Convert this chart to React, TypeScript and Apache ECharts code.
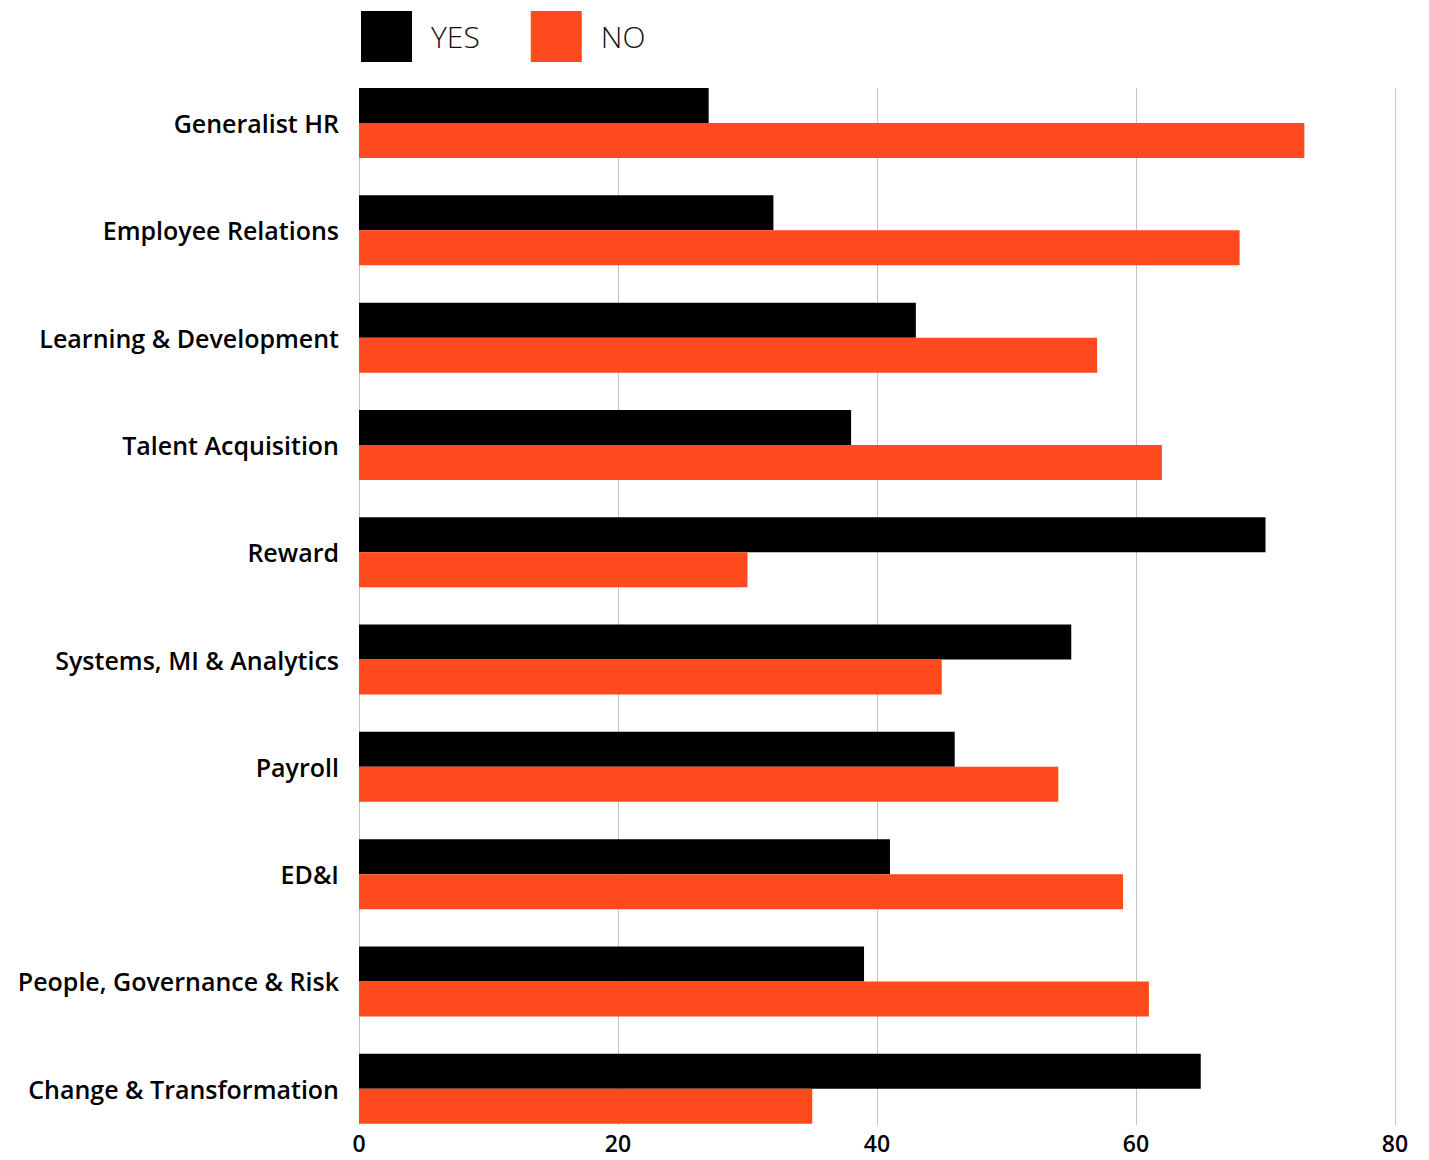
import React, { useEffect, useRef } from "react";
import * as echarts from "echarts";

const categories = [
  "Generalist HR",
  "Employee Relations",
  "Learning & Development",
  "Talent Acquisition",
  "Reward",
  "Systems, MI & Analytics",
  "Payroll",
  "ED&I",
  "People, Governance & Risk",
  "Change & Transformation",
];
const yesValues = [27, 32, 43, 38, 70, 55, 46, 41, 39, 65];
const noValues = [73, 68, 57, 62, 30, 45, 54, 59, 61, 35];
const seriesNames = ["YES", "NO"];
const xTicks = [0, 20, 40, 60, 80];

const BLACK = "#000000";
const ORANGE = "#FF4A1E";
const GRIDLINE = "#c4c4c4";
const FONT = "Open Sans";

export default function App() {
  const ref = useRef<HTMLDivElement>(null);
  useEffect(() => {
    if (!ref.current) return;
    const chart = echarts.init(ref.current, null, { renderer: "svg" });
    chart.setOption({
      animation: false,
      backgroundColor: "#ffffff",
      legend: {
        left: 356,
        top: 6,
        itemWidth: 51,
        itemHeight: 51,
        itemGap: 51,
        icon: "rect",
        data: seriesNames,
        textStyle: {
          fontFamily: FONT,
          fontSize: 30,
          fontWeight: 300,
          color: "#111",
          padding: [0, 0, 0, 14],
        },
      },
      grid: [
        { left: 359, width: 1036, top: 88, height: 1037 },
        { left: 359, width: 1036, top: 69.4, height: 1073 },
      ],
      xAxis: [
        {
          gridIndex: 0,
          type: "value",
          min: xTicks[0],
          max: xTicks[xTicks.length - 1],
          interval: 20,
          axisLine: { show: false },
          axisTick: { show: false },
          splitLine: { show: true, lineStyle: { color: GRIDLINE, width: 1 } },
          axisLabel: {
            margin: 9,
            lineHeight: 18,
            fontFamily: FONT,
            fontSize: 23,
            fontWeight: 600,
            color: "#000",
          },
        },
        {
          gridIndex: 1,
          type: "value",
          min: xTicks[0],
          max: xTicks[xTicks.length - 1],
          interval: 20,
          axisLine: { show: false },
          axisTick: { show: false },
          splitLine: { show: false },
          axisLabel: { show: false },
        },
      ],
      yAxis: [
        {
          gridIndex: 0,
          type: "category",
          data: categories,
          inverse: true,
          axisLine: { show: false },
          axisTick: { show: false },
          axisLabel: { show: false },
          splitLine: { show: false },
        },
        {
          gridIndex: 1,
          type: "category",
          data: categories,
          inverse: true,
          axisLine: { show: false },
          axisTick: { show: false },
          splitLine: { show: false },
          axisLabel: {
            margin: 20,
            padding: [0, 0, 4, 0],
            fontFamily: FONT,
            fontSize: 25,
            fontWeight: 600,
            color: "#000",
          },
        },
      ],
      series: [
        {
          name: seriesNames[0],
          type: "bar",
          xAxisIndex: 1,
          yAxisIndex: 1,
          data: yesValues,
          barWidth: 35,
          barGap: "0%",
          itemStyle: { color: BLACK },
        },
        {
          name: seriesNames[1],
          type: "bar",
          xAxisIndex: 1,
          yAxisIndex: 1,
          data: noValues,
          barWidth: 35,
          barGap: "0%",
          itemStyle: { color: ORANGE },
        },
      ],
    });
    return () => chart.dispose();
  }, []);
  return <div ref={ref} style={{ width: 1429, height: 1160, position: "absolute", left: 0, top: 0 }} />;
}
